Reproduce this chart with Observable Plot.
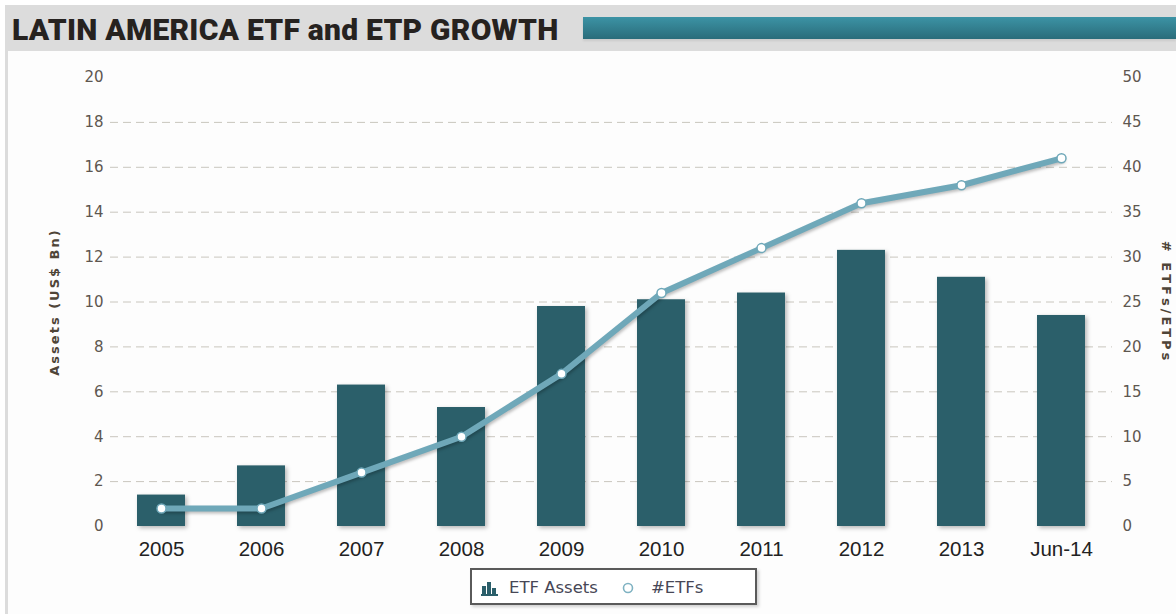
<!DOCTYPE html>
<html>
<head>
<meta charset="utf-8">
<script src="https://cdn.jsdelivr.net/npm/d3@7"></script>
<script src="https://cdn.jsdelivr.net/npm/@observablehq/plot@0.6"></script>
<style>
  html, body { margin: 0; padding: 0; background: #ffffff; }
  body { width: 1176px; height: 614px; position: relative; overflow: hidden; font-family: "DejaVu Sans", sans-serif; }
  #band { position: absolute; left: 5px; top: 5px; width: 1171px; height: 46px; background: #dcdcdc; }
  #title { position: absolute; left: 12px; top: 12px; height: 36px; line-height: 36px; white-space: nowrap;
           font-family: Roboto, "DejaVu Sans", sans-serif; font-weight: 900; font-size: 30px; letter-spacing: 0.25px; color: #26221f; }
  #teal { position: absolute; left: 583px; top: 17px; width: 593px; height: 22px;
          background: linear-gradient(#3c93a5, #2a6c7a); box-shadow: 0 2px 2px rgba(0,0,0,0.08); }
  #panel { position: absolute; left: 8px; top: 51px; width: 1168px; height: 563px; background: #fdfdfd; }
  #lborder { position: absolute; left: 5px; top: 51px; width: 3px; height: 563px; background: #dcdcdc; }
  #chart { position: absolute; left: 0; top: 51px; }
  #legend { position: absolute; left: 470px; top: 568px; width: 283px; height: 33px;
            border: 2px solid #5a5a5a; background: #fff; box-shadow: 2px 2px 3px rgba(0,0,0,0.18);
            font-family: "DejaVu Sans", sans-serif; font-size: 16.5px; color: #474756; }
  #legend .item { position: absolute; top: 8px; white-space: nowrap; }
</style>
</head>
<body>
<div id="band"></div>
<div id="teal"></div>
<div id="title">LATIN AMERICA ETF and ETP GROWTH</div>
<div id="panel"></div>
<div id="lborder"></div>
<div id="chart"></div>
<div id="legend">
  <svg class="item" style="left:9px; top:10px" width="18" height="16">
    <rect x="1" y="6" width="4" height="9" fill="#2b5f6a"/>
    <rect x="6" y="2" width="4" height="13" fill="#2b5f6a"/>
    <rect x="11" y="8" width="4" height="7" fill="#2b5f6a"/>
    <rect x="0" y="14" width="17" height="2" fill="#2b5f6a"/>
  </svg>
  <span class="item" style="left:37px">ETF Assets</span>
  <svg class="item" style="left:149px; top:11px" width="14" height="14">
    <circle cx="7" cy="7" r="4.5" fill="#fff" stroke="#7fb2c2" stroke-width="1.6"/>
  </svg>
  <span class="item" style="left:179px">#ETFs</span>
</div>
<script>
const years = ["2005","2006","2007","2008","2009","2010","2011","2012","2013","Jun-14"];
const assets = [1.4, 2.7, 6.3, 5.3, 9.8, 10.1, 10.4, 12.3, 11.1, 9.4];
const etfCounts = [2, 2, 6, 10, 17, 26, 31, 36, 38, 41];
const leftTicks = [0, 2, 4, 6, 8, 10, 12, 14, 16, 18, 20];
const gridTicks = [2, 4, 6, 8, 10, 12, 14, 16, 18];
const rightTicks = [0, 5, 10, 15, 20, 25, 30, 35, 40, 45, 50];
const leftLabel = "Assets (US$ Bn)";
const rightLabel = "# ETFs/ETPs";

const ratio = 20 / 50;
const data = years.map((y, i) => ({year: y, assets: assets[i], etfs: etfCounts[i]}));

const barColor = "#2b5f6a";
const lineColor = "#6fa8b9";
const tickColor = "#5e5750";

const chart = Plot.plot({
  width: 1176,
  height: 515,
  marginTop: 26,
  marginBottom: 40,
  marginLeft: 110,
  marginRight: 64,
  style: {background: "transparent", overflow: "visible"},
  x: {domain: years, paddingInner: 0.52, paddingOuter: 0.26, label: null},
  y: {domain: [0, 20], label: null},
  marks: [
    Plot.gridY(gridTicks, {stroke: "#c9c6be", strokeOpacity: 1, strokeDasharray: "8,5", strokeWidth: 1}),
    Plot.axisY(leftTicks, {anchor: "left", tickSize: 0, tickPadding: 7, label: null,
      fontSize: 15, fill: tickColor, fontFamily: "DejaVu Sans, sans-serif"}),
    Plot.axisY(rightTicks.map(v => v * ratio), {anchor: "right", tickSize: 0, tickPadding: 10, label: null,
      tickFormat: v => String(Math.round(v / ratio)),
      fontSize: 15, fill: tickColor, fontFamily: "DejaVu Sans, sans-serif"}),
    Plot.axisX({anchor: "bottom", tickSize: 0, tickPadding: 15, label: null,
      fontSize: 20.5, fill: "#222", fontFamily: "Liberation Sans, Arial, sans-serif"}),
    Plot.barY(data, {x: "year", y: "assets", fill: barColor, className: "bars"}),
    Plot.line(data, {x: "year", y: d => d.etfs * ratio, stroke: lineColor, strokeWidth: 6,
      strokeLinejoin: "round", strokeLinecap: "round", className: "ln"}),
    Plot.dot(data, {x: "year", y: d => d.etfs * ratio, r: 4.5, fill: "#fff", stroke: lineColor, strokeWidth: 1.5}),
    Plot.text([leftLabel], {frameAnchor: "left", dx: -56, rotate: -90, textAnchor: "middle", text: d => d,
      fontSize: 13, fontWeight: "bold", fill: "#4f4538", fontFamily: "DejaVu Sans, sans-serif", className: "lbl"}),
    Plot.text([rightLabel], {frameAnchor: "right", dx: 54, rotate: 90, textAnchor: "middle", text: d => d,
      fontSize: 13, fontWeight: "bold", fill: "#4f4538", fontFamily: "DejaVu Sans, sans-serif", className: "lbl2"})
  ]
});
document.getElementById("chart").appendChild(chart);
chart.querySelectorAll(".bars").forEach(g => g.style.filter = "drop-shadow(2px 2px 2px rgba(0,0,0,0.28))");
chart.querySelectorAll(".ln").forEach(g => g.style.filter = "drop-shadow(1px 2px 1.5px rgba(0,0,0,0.25))");
chart.querySelectorAll(".lbl text").forEach(t => t.style.letterSpacing = "2px");
chart.querySelectorAll(".lbl2 text").forEach(t => t.style.letterSpacing = "3px");
</script>
</body>
</html>
